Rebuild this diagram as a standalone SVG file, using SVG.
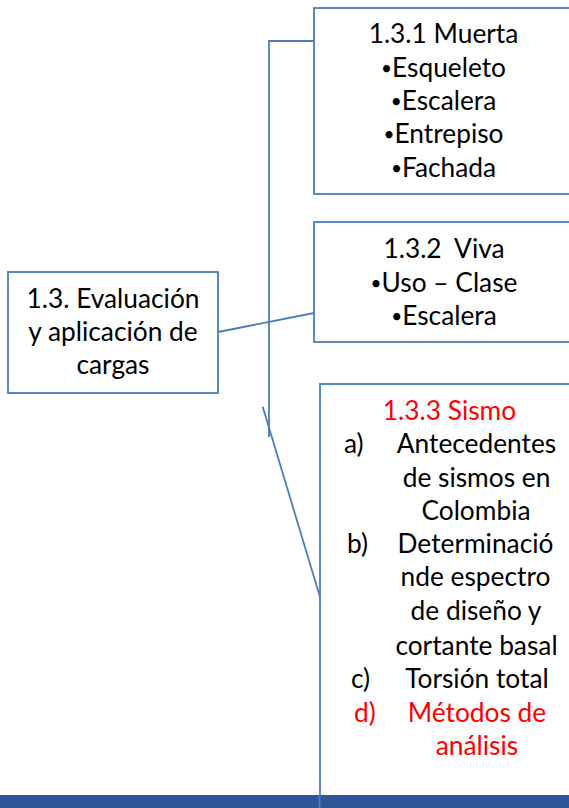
<svg xmlns="http://www.w3.org/2000/svg" width="569" height="808" viewBox="0 0 569 808">
<style>
.box{fill:#fff;stroke:#4A7EBB;stroke-width:1.8}
.ln{fill:none;stroke:#4A7EBB;stroke-width:1.8}
text{font-family:Lato,"Liberation Sans",sans-serif;font-size:26.3px;fill:#000}
.c{text-anchor:middle}
.r{fill:#FF0000}
.b{font-size:19px}
</style>
<rect width="569" height="808" fill="#fff"/>
<g id="connectors">
<polyline class="ln" points="314,41 269,41 269,437"/>
<line class="ln" x1="218" y1="332" x2="314" y2="313"/>
<line class="ln" x1="262.7" y1="406.7" x2="320" y2="597"/>
</g>
<g id="n131">
<rect class="box" x="314" y="8" width="260" height="186"/>
<text class="c" x="443.5" y="43">1.3.1 Muerta</text>
<text class="c" x="443.5" y="77"><tspan class="b" dy="-2">•</tspan><tspan dy="2">Esqueleto</tspan></text>
<text class="c" x="443.5" y="110"><tspan class="b" dy="-2">•</tspan><tspan dy="2">Escalera</tspan></text>
<text class="c" x="443.5" y="143"><tspan class="b" dy="-2">•</tspan><tspan dy="2">Entrepiso</tspan></text>
<text class="c" x="443.5" y="177"><tspan class="b" dy="-2">•</tspan><tspan dy="2">Fachada</tspan></text>
</g>
<g id="n132">
<rect class="box" x="314" y="222" width="260" height="120"/>
<text class="c" x="444" y="258" xml:space="preserve">1.3.2  Viva</text>
<text class="c" x="444" y="292"><tspan class="b" dy="-2">•</tspan><tspan dy="2">Uso – Clase</tspan></text>
<text class="c" x="444" y="325"><tspan class="b" dy="-2">•</tspan><tspan dy="2">Escalera</tspan></text>
</g>
<g id="n13">
<rect class="box" x="8" y="272" width="210" height="121"/>
<text class="c" x="113" y="308">1.3. Evaluación</text>
<text class="c" x="113" y="341">y aplicación de</text>
<text class="c" x="113" y="374">cargas</text>
</g>
<g id="n133">
<rect class="box" x="320" y="384" width="262" height="430"/>
<text class="c r" x="449.5" y="420">1.3.3 Sismo</text>
<text x="344" y="453">a)</text>
<text class="c" x="476.5" y="453">Antecedentes</text>
<text class="c" x="476.5" y="487">de sismos en</text>
<text class="c" x="476" y="520">Colombia</text>
<text x="347" y="553">b)</text>
<text class="c" x="475.5" y="553">Determinació</text>
<text class="c" x="475.5" y="586">nde espectro</text>
<text class="c" x="476" y="620">de diseño y</text>
<text class="c" x="476.5" y="655">cortante basal</text>
<text x="351" y="688">c)</text>
<text class="c" x="477" y="688">Torsión total</text>
<text class="r" x="354" y="722">d)</text>
<text class="c r" x="477" y="722">Métodos de</text>
<text class="c r" x="477" y="755">análisis</text>
</g>
<rect x="0" y="795" width="569" height="13" fill="#2E5597"/>
<line x1="319.5" y1="795" x2="319.5" y2="808" stroke="#4A7EBB" stroke-width="1.8"/>
</svg>
